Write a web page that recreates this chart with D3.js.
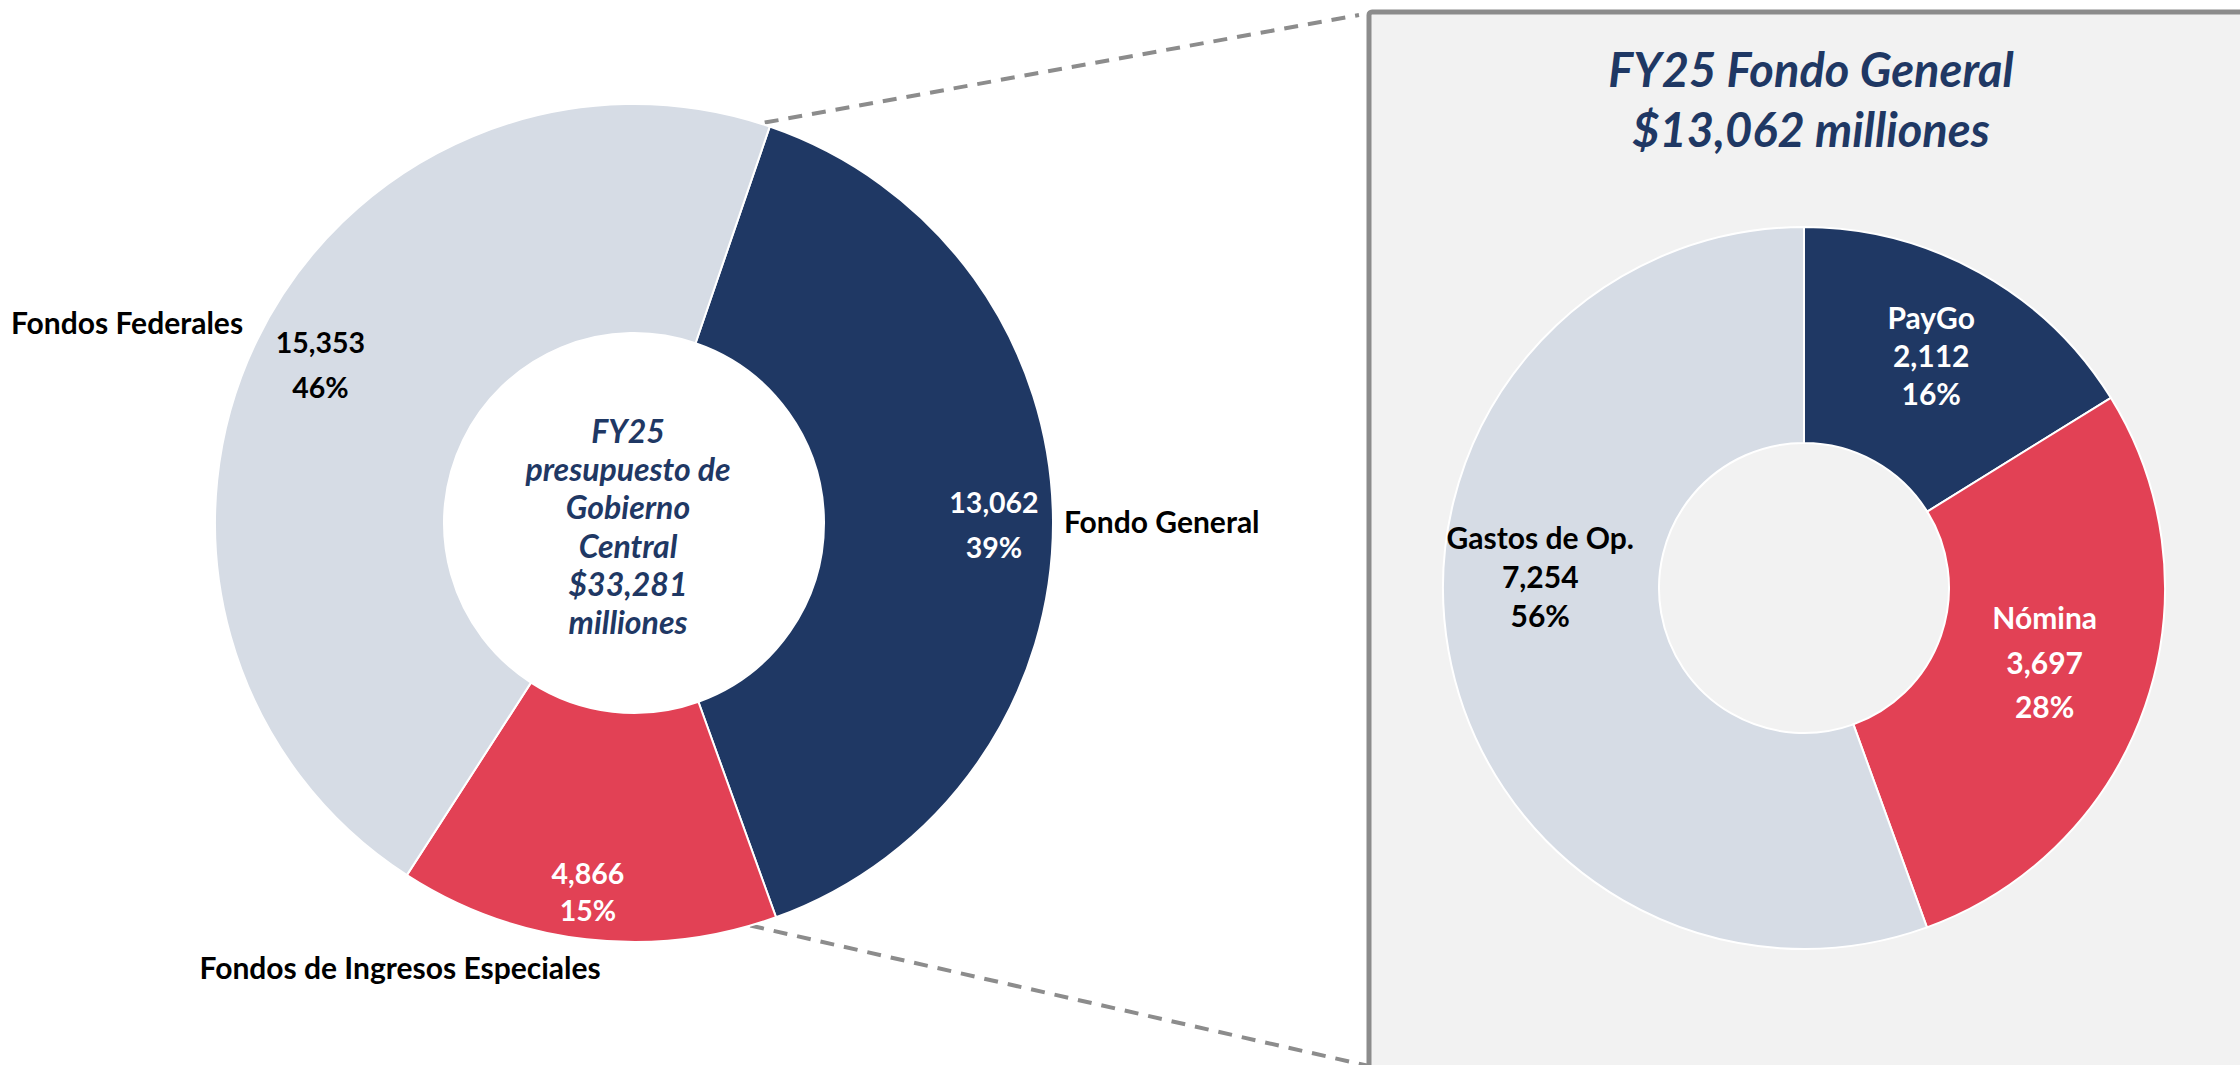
<!DOCTYPE html>
<html>
<head>
<meta charset="utf-8">
<script src="https://cdn.jsdelivr.net/npm/d3@7"></script>
<style>
body{margin:0;background:#fff;}
svg{display:block;font-family:Lato, "Open Sans", sans-serif;font-weight:bold;}
</style>
</head>
<body>
<div id="wrapper"></div>
<script>
// Data
const mainCategories = ['Fondo General', 'Fondos de Ingresos Especiales', 'Fondos Federales'];
const mainValues = [13062, 4866, 15353];
const generalCategories = ['PayGo', 'Nómina', 'Gastos de Op.'];
const generalValues = [2112, 3697, 7254];
const sliceColors = ['#1f3864', '#e24155', '#d6dce5'];
const labelColors = ['#fff', '#fff', '#000'];

const fmtNum = d3.format(',');
const fmtPct = d3.format('.0%');
const rad = d => d * Math.PI / 180;

// Dimension
const dimension = {width: 2240, height: 1065};
const main = {cx: 634, cy: 523, r0: 190, r1: 419, start: rad(18.9)};
const gen = {cx: 1804, cy: 588, r0: 145, r1: 361, start: 0};

// label placement: angle shift (deg) from slice middle, radius, line gap
const mainValuePos = [{da: 0.8, r: 360, gap: 45}, {da: 0.6, r: 372, gap: 37}, {da: 0.8, r: 351, gap: 45}];
const mainNamePos = [{da: 0.4, r: 430, anchor: 'start'}, {da: 21.2, r: 503, anchor: 'middle'}, {da: 1.2, r: 439, anchor: 'end'}];
const genLabelPos = [{da: -0.3, r: 264, gap: 38}, {da: -1.9, r: 252, gap: 44.5}, {da: 12.4, r: 264, gap: 39}];

// Canvas
const svg = d3.select('#wrapper').append('svg')
    .attr('width', dimension.width).attr('height', dimension.height);

const mainTotal = d3.sum(mainValues);
// the panel shows the Fondo General slice of the main chart
const genTotal = mainValues[0];

const mainPie = d3.pie().sort(null).value(d => d)
    .startAngle(main.start).endAngle(main.start + 2 * Math.PI)(mainValues);
const genPie = d3.pie().sort(null).value(d => d)
    .startAngle(gen.start).endAngle(gen.start + 2 * Math.PI)(generalValues);

// Panel on the right
const panelX = 1369, panelY = 12;
svg.append('rect')
    .attr('x', panelX).attr('y', panelY).attr('width', 1000).attr('height', 1200)
    .attr('rx', 3)
    .attr('fill', '#f2f2f2').attr('stroke', '#8c8c8c').attr('stroke-width', 5);

// dashed connectors from the main donut to the panel
const topPt = d3.pointRadial(mainPie[0].startAngle, main.r1);
const botPt = d3.pointRadial(mainPie[0].endAngle + rad(3.7), main.r1);
const connectors = [
    [[main.cx + topPt[0] - 5, main.cy + topPt[1] - 4], [panelX - 10, panelY + 3]],
    [[main.cx + botPt[0], main.cy + botPt[1]], [panelX, 1066]]
];
svg.selectAll('line.conn').data(connectors).enter().append('line')
    .attr('class', 'conn')
    .attr('x1', d => d[0][0]).attr('y1', d => d[0][1])
    .attr('x2', d => d[1][0]).attr('y2', d => d[1][1])
    .attr('stroke', '#8c8c8c').attr('stroke-width', 4)
    .attr('stroke-dasharray', '14,10');

// Main donut
const mainG = svg.append('g').attr('transform', `translate(${main.cx},${main.cy})`);
const mainArc = d3.arc().innerRadius(main.r0).outerRadius(main.r1);
mainG.selectAll('path').data(mainPie).enter().append('path')
    .attr('d', mainArc)
    .attr('fill', (d, i) => sliceColors[i])
    .attr('stroke', '#fff').attr('stroke-width', 2);
mainG.append('circle').attr('r', main.r0 - 1).attr('fill', '#fff');

const mid = d => (d.startAngle + d.endAngle) / 2;

// value labels
mainPie.forEach((d, i) => {
    const p = mainValuePos[i];
    const [x, y] = d3.pointRadial(mid(d) + rad(p.da), p.r);
    const lines = [fmtNum(d.value), fmtPct(d.value / mainTotal)];
    const t = mainG.append('text').attr('text-anchor', 'middle')
        .attr('fill', labelColors[i]).style('font-size', '28.5px');
    lines.forEach((s, k) => {
        t.append('tspan').attr('x', x)
            .attr('y', y + (k - (lines.length - 1) / 2) * p.gap)
            .attr('dy', '0.36em').text(s);
    });
});

// category labels
mainPie.forEach((d, i) => {
    const p = mainNamePos[i];
    const [x, y] = d3.pointRadial(mid(d) + rad(p.da), p.r);
    mainG.append('text').attr('x', x).attr('y', y).attr('dy', '0.36em')
        .attr('text-anchor', p.anchor).attr('fill', '#000')
        .style('font-size', '30px').text(mainCategories[i]);
});

// center text
const centerLines = ['FY25', 'presupuesto de', 'Gobierno', 'Central', '$' + fmtNum(mainTotal), 'milliones'];
const ct = mainG.append('text').attr('text-anchor', 'middle')
    .attr('fill', '#1f3864').style('font-size', '32px').style('font-style', 'italic');
centerLines.forEach((s, k) => {
    ct.append('tspan').attr('x', -6)
        .attr('y', 4 + (k - (centerLines.length - 1) / 2) * 38.2)
        .attr('dy', '0.36em').text(s);
});

// Panel title
const title = svg.append('text').attr('text-anchor', 'middle')
    .attr('fill', '#1f3864').style('font-size', '47px').style('font-style', 'italic');
['FY25 Fondo General', '$' + fmtNum(genTotal) + ' milliones'].forEach((s, k) => {
    title.append('tspan').attr('x', gen.cx + 7).attr('y', 87 + k * 60).text(s);
});

// Fondo General donut
const genG = svg.append('g').attr('transform', `translate(${gen.cx},${gen.cy})`);
const genArc = d3.arc().innerRadius(gen.r0).outerRadius(gen.r1);
genG.selectAll('path').data(genPie).enter().append('path')
    .attr('d', genArc)
    .attr('fill', (d, i) => sliceColors[i])
    .attr('stroke', '#fff').attr('stroke-width', 2);

genPie.forEach((d, i) => {
    const p = genLabelPos[i];
    const [x, y] = d3.pointRadial(mid(d) + rad(p.da), p.r);
    const lines = [generalCategories[i], fmtNum(d.value), fmtPct(d.value / d3.sum(generalValues))];
    const t = genG.append('text').attr('text-anchor', 'middle')
        .attr('fill', labelColors[i]).style('font-size', '30px');
    lines.forEach((s, k) => {
        t.append('tspan').attr('x', x)
            .attr('y', y + (k - (lines.length - 1) / 2) * p.gap)
            .attr('dy', '0.36em').text(s);
    });
});
</script>
</body>
</html>
